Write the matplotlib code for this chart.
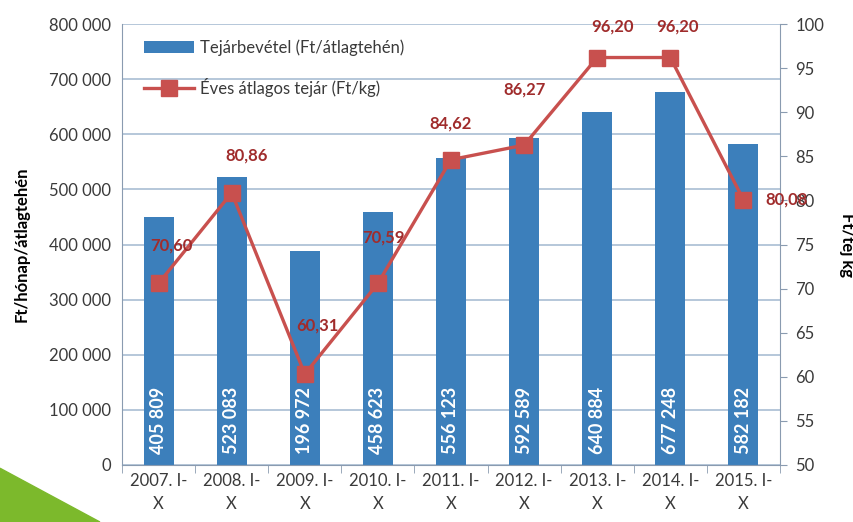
import matplotlib.pyplot as plt
from matplotlib.patches import Polygon
from matplotlib.ticker import FuncFormatter, MultipleLocator

plt.rcParams['font.family'] = ['Lato', 'DejaVu Sans']

# data
periods = ['2007. I-\nX', '2008. I-\nX', '2009. I-\nX', '2010. I-\nX', '2011. I-\nX',
           '2012. I-\nX', '2013. I-\nX', '2014. I-\nX', '2015. I-\nX']
bar_heights = [450000, 523083, 388000, 458623, 556123, 592589, 640884, 677248, 582182]
bar_labels = ['405 809', '523 083', '196 972', '458 623', '556 123',
              '592 589', '640 884', '677 248', '582 182']
milk_price = [70.60, 80.86, 60.31, 70.59, 84.62, 86.27, 96.20, 96.20, 80.08]
# label offsets (points) for the price labels
label_dx = [9, 11, 9, 4, 0, 0, 11, 5, 31]
label_dy = [27, 27, 35, 33, 26, 40, 22, 22, 0]

blue = '#3c7fbb'
red = '#c8504e'
dark_red = '#a02c2c'
grey_txt = '#3a3a3a'

fig = plt.figure(figsize=(8.54, 5.22), dpi=100)
ax = fig.add_axes([0.1429, 0.1092, 0.7704, 0.8448])
x = range(len(periods))

bars = ax.bar(x, bar_heights, width=0.41, color=blue, zorder=2,
              label='Tejárbevétel (Ft/átlagtehén)')
for xi, lab in zip(x, bar_labels):
    ax.text(xi, 20000, lab, rotation=90, ha='center', va='bottom', color='white',
            fontsize=13, fontweight='bold', zorder=3)

ax.set_ylim(0, 800000)
ax.set_xlim(-0.5, len(periods) - 0.5)
ax.yaxis.set_major_locator(MultipleLocator(100000))
ax.yaxis.set_major_formatter(FuncFormatter(lambda v, p: f'{v:,.0f}'.replace(',', ' ')))
ax.grid(axis='y', color='#a9bdd3', linewidth=1.2, zorder=0)
ax.set_axisbelow(True)
ax.set_xticks(list(x))
ax.set_xticklabels(periods, fontsize=12, color=grey_txt, linespacing=1.5)
ax.set_xticks([i + 0.5 for i in range(-1, len(periods))], minor=True)
ax.tick_params(axis='x', which='major', length=0, pad=6)
ax.tick_params(axis='x', which='minor', length=6, color='#8a9bb0')
ax.tick_params(axis='y', length=0, labelsize=12, labelcolor=grey_txt, pad=8)
ax.set_ylabel('Ft/hónap/átlagtehén', fontsize=12, fontweight='bold', labelpad=14)
for s in ['top', 'right']:
    ax.spines[s].set_visible(False)
for s in ['left', 'bottom']:
    ax.spines[s].set_color('#8a9bb0')

ax2 = ax.twinx()
line, = ax2.plot(x, milk_price, color=red, linewidth=2.4, marker='s', markersize=11,
                 zorder=4, label='Éves átlagos tejár (Ft/kg)')
for xi, v, dx, dy in zip(x, milk_price, label_dx, label_dy):
    ax2.annotate(f'{v:.2f}'.replace('.', ','), (xi, v), xytext=(dx, dy),
                 textcoords='offset points', ha='center', va='center',
                 color=dark_red, fontsize=12, fontweight='bold', zorder=5)
ax2.set_ylim(50, 100)
ax2.yaxis.set_major_locator(MultipleLocator(5))
ax2.tick_params(axis='y', length=5, color='#8a9bb0', labelsize=12, labelcolor=grey_txt, pad=6)
ax2.set_ylabel('Ft/tej kg', fontsize=12, fontweight='bold', rotation=270, labelpad=22)
for s in ['top', 'left', 'bottom']:
    ax2.spines[s].set_visible(False)
ax2.spines['right'].set_color('#8a9bb0')

ax.legend([bars, line], [bars.get_label(), line.get_label()], loc='upper left',
          bbox_to_anchor=(0.01, 1.0), frameon=False, fontsize=12, handlelength=3.0,
          handletextpad=0.4, labelspacing=1.35, labelcolor=grey_txt)

# green corner decoration
fig.patches.append(Polygon([[0, 0], [0, 0.103], [0.117, 0]], closed=True,
                           transform=fig.transFigure, color='#7cb92c', zorder=0))

fig.savefig('out.png', dpi=100)
